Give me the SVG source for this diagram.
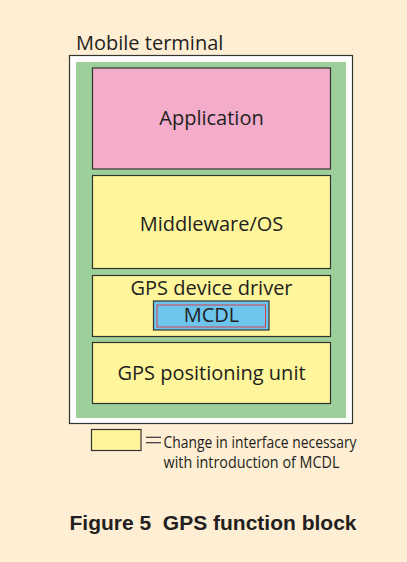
<svg xmlns="http://www.w3.org/2000/svg" width="407" height="562" viewBox="0 0 407 562">
<style>
.lbl{font-family:"Open Sans","Noto Sans",sans-serif;font-size:20px;fill:#231f20;text-anchor:middle}
.box{stroke:#333;stroke-width:1.2}
.yel{fill:#FFF59B}
.leg{font-family:"Liberation Sans Narrow","Open Sans",sans-serif;font-size:17px;font-weight:normal;fill:#231f20}
</style>
<rect x="0" y="0" width="407" height="562" fill="#FEEED3"/>
<g id="mobile-terminal">
<rect x="69.5" y="55.5" width="283" height="368" fill="#ffffff" stroke="#333" stroke-width="1.2"/>
<rect x="76" y="62" width="270" height="356" fill="#9DCF9B"/>
<text x="76" y="49.5" font-family="Open Sans, Noto Sans, sans-serif" font-size="20" fill="#231f20">Mobile terminal</text>
</g>
<g id="application">
<rect class="box" x="92.5" y="68" width="238" height="101" fill="#F4ACCB"/>
<text class="lbl" x="211.5" y="125">Application</text>
</g>
<g id="middleware">
<rect class="box yel" x="92.5" y="175.5" width="238" height="93"/>
<text class="lbl" x="211.5" y="231">Middleware/OS</text>
</g>
<g id="gps-driver">
<rect class="box yel" x="92.5" y="275.5" width="238" height="61"/>
<text class="lbl" x="211.5" y="295">GPS device driver</text>
</g>
<g id="mcdl">
<rect class="box" x="153.5" y="301" width="115.5" height="29" fill="#6DC5EE"/>
<rect x="157" y="305" width="108.5" height="22" fill="none" stroke="#D8424F" stroke-width="1"/>
<text class="lbl" x="211.5" y="322.3">MCDL</text>
</g>
<g id="gps-positioning">
<rect class="box yel" x="92.5" y="342.5" width="238" height="61"/>
<text class="lbl" x="211.5" y="380">GPS positioning unit</text>
</g>
<g id="legend">
<rect class="box yel" x="91.5" y="429.5" width="49.5" height="21"/>
<line x1="146" y1="437.3" x2="161" y2="437.3" stroke="#333" stroke-width="1.2"/>
<line x1="146" y1="442.7" x2="161" y2="442.7" stroke="#333" stroke-width="1.2"/>
<text class="leg" x="163.5" y="447.7" textLength="193" lengthAdjust="spacingAndGlyphs">Change in interface necessary</text>
<text class="leg" x="163.5" y="468.3" textLength="176" lengthAdjust="spacingAndGlyphs">with introduction of MCDL</text>
</g>
<g id="connectors"></g>
<text x="69.5" y="530" font-family="Liberation Sans, Arial, sans-serif" font-weight="bold" font-size="21" fill="#231f20" xml:space="preserve">Figure 5  GPS function block</text>
</svg>
